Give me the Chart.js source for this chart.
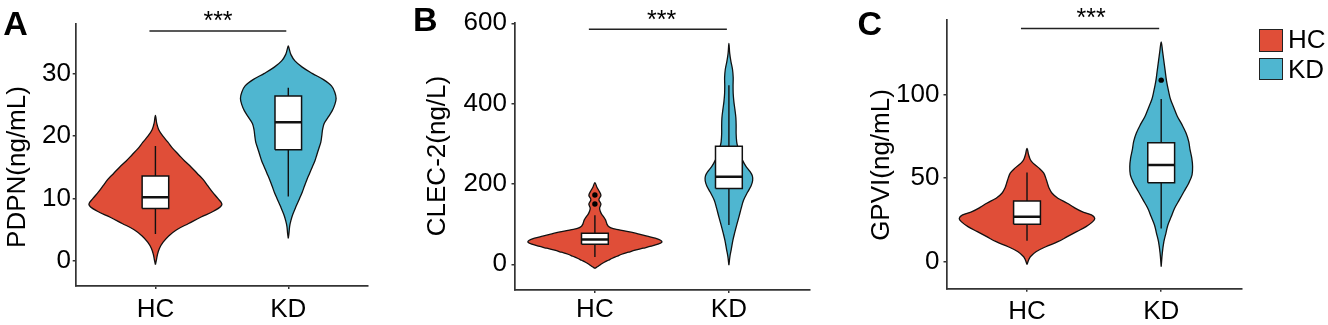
<!DOCTYPE html>
<html><head><meta charset="utf-8">
<script src="https://cdn.jsdelivr.net/npm/chart.js@4.4.1/dist/chart.umd.min.js"></script>
<style>
html,body{margin:0;padding:0;background:#fff;width:1328px;height:325px;overflow:hidden;}
body{position:relative;font-family:"Liberation Sans",Arial,Helvetica,sans-serif;}
canvas{position:absolute;top:0;}
.lbl{position:absolute;white-space:nowrap;line-height:1;color:#000;}
.key{position:absolute;box-sizing:border-box;border:1.5px solid #222;}
</style></head><body>
<canvas id="cA" width="380" height="325" style="left:0px"></canvas>
<canvas id="cB" width="400" height="325" style="left:419px"></canvas>
<canvas id="cC" width="390" height="325" style="left:864px"></canvas>
<script>
// ---------------- DATA ----------------
const groups = ['HC', 'KD'];
const panelLetters = ['A', 'B', 'C'];
const yTitles = ['PDPN(ng/mL)', 'CLEC-2(ng/L)', 'GPVI(ng/mL)'];
const sigText = '***';

const pdpnTicks = [0, 10, 20, 30];
const clecTicks = [0, 200, 400, 600];
const gpviTicks = [0, 50, 100];

// violin outlines: value levels and density half-widths (in group units)
const pdpnHcY = [-0.6, 0, 1, 2, 3, 4, 5, 6, 7, 8, 9, 10, 11, 12, 13, 14, 15, 16, 17, 18, 19, 20, 21, 22, 23.3];
const pdpnHcW = [0, 0.006, 0.015, 0.03, 0.058, 0.1, 0.16, 0.25, 0.34, 0.44, 0.5, 0.47, 0.43, 0.395, 0.36, 0.315, 0.27, 0.22, 0.175, 0.13, 0.094, 0.055, 0.025, 0.01, 0];
const pdpnKdY = [3.6, 4.4, 5.5, 6.5, 7.5, 8.7, 10, 11, 12, 13, 14, 15, 16, 17, 18, 19, 20, 21, 22, 23, 24, 25, 26, 27, 28, 29, 30, 31, 32, 33, 34, 34.4];
const pdpnKdW = [0, 0.005, 0.01, 0.02, 0.035, 0.058, 0.085, 0.105, 0.122, 0.14, 0.16, 0.18, 0.2, 0.215, 0.23, 0.245, 0.252, 0.258, 0.27, 0.3, 0.33, 0.35, 0.36, 0.35, 0.325, 0.265, 0.18, 0.105, 0.05, 0.02, 0.006, 0];

const clecHcY = [-10, -5, 0, 5, 10, 15, 20, 25, 30, 35, 40, 45, 50, 55, 60, 65, 70, 75, 80, 84, 87, 90, 95, 100, 110, 118, 125, 132, 140, 150, 161, 172, 183, 192, 203];
const clecHcW = [0, 0.025, 0.045, 0.07, 0.1, 0.13, 0.165, 0.2, 0.25, 0.3, 0.36, 0.42, 0.47, 0.5, 0.49, 0.45, 0.39, 0.33, 0.27, 0.21, 0.16, 0.125, 0.1, 0.09, 0.08, 0.065, 0.05, 0.04, 0.035, 0.045, 0.03, 0.045, 0.03, 0.015, 0];
const clecKdY = [-2, 20, 36, 60, 77, 100, 118, 140, 160, 180, 195, 208, 220, 232, 245, 260, 275, 290, 305, 325, 345, 365, 385, 405, 425, 445, 465, 485, 505, 525, 550];
const clecKdW = [0, 0.008, 0.017, 0.03, 0.042, 0.06, 0.075, 0.092, 0.11, 0.14, 0.165, 0.177, 0.175, 0.155, 0.125, 0.1, 0.08, 0.068, 0.058, 0.054, 0.054, 0.052, 0.045, 0.037, 0.032, 0.031, 0.032, 0.027, 0.015, 0.006, 0];

const gpviHcY = [-1.6, 1, 3, 6, 9, 12, 15, 18, 21, 24, 26, 28, 30, 32.5, 35, 38, 41, 44, 47, 50, 53, 56, 59, 61, 64, 67.8];
const gpviHcW = [0, 0.012, 0.025, 0.067, 0.14, 0.23, 0.3, 0.37, 0.44, 0.49, 0.505, 0.48, 0.41, 0.35, 0.3, 0.23, 0.187, 0.165, 0.152, 0.14, 0.125, 0.09, 0.045, 0.025, 0.012, 0];
const gpviKdY = [-3, 5, 12, 17, 22, 27, 32, 37, 42, 47, 52, 57, 62, 67, 72, 77, 82, 87, 92, 97, 102, 108, 114, 120, 126, 131.5];
const gpviKdW = [0, 0.008, 0.02, 0.035, 0.05, 0.075, 0.1, 0.135, 0.17, 0.205, 0.23, 0.234, 0.228, 0.215, 0.205, 0.185, 0.155, 0.12, 0.095, 0.07, 0.055, 0.04, 0.03, 0.02, 0.01, 0];

// box stats: [lower whisker, Q1, median, Q3, upper whisker]
const pdpnHcBox = [4.3, 8.4, 10.2, 13.6, 18.4];
const pdpnKdBox = [10.3, 17.8, 22.2, 26.4, 27.7];
const clecHcBox = [18, 50, 62, 77, 122];
const clecKdBox = [98, 189, 218, 294, 446];
const gpviHcBox = [12.6, 22.5, 26.9, 36.3, 53.4];
const gpviKdBox = [19.9, 47.2, 57.8, 71.1, 97.3];

const pdpnHcOut = [], pdpnKdOut = [];
const clecHcOut = [150, 172.5], clecKdOut = [];
const gpviHcOut = [], gpviKdOut = [108.6];

// significance bracket level (data units) per panel
const sigLevels = [36.8, 585, 139.5];

// ---------------- DRAWING ----------------
const COLORS = ['#E04E38', '#4FB6D0'];
const AXIS = '#333333';
const FONT = '"Liberation Sans", Arial, Helvetica, sans-serif';
const TICK_SIZE = 26;

function violinPts(c, ys, ws) {
  const p = [];
  for (let i = 0; i < ys.length; i++) p.push({x: c + ws[i], y: ys[i]});
  for (let i = ys.length - 2; i >= 0; i--) p.push({x: c - ws[i], y: ys[i]});
  return p;
}

function groupDatasets(c, ys, ws, box, outs, color) {
  const bw = 0.1;
  const [lo, q1, med, q3, hi] = box;
  return [
    {data: violinPts(c, ys, ws), showLine: true, fill: 'shape', backgroundColor: color,
     borderColor: '#111', borderWidth: 1.3, tension: 0.35, pointRadius: 0, order: 6},
    {data: [{x: c, y: lo}, {x: c, y: q1}, {x: c, y: null}, {x: c, y: q3}, {x: c, y: hi}],
     showLine: true, borderColor: '#111', borderWidth: 1.4, pointRadius: 0, tension: 0, spanGaps: false, order: 5},
    {data: [{x: c - bw, y: q1}, {x: c + bw, y: q1}, {x: c + bw, y: q3}, {x: c - bw, y: q3}, {x: c - bw, y: q1}],
     showLine: true, fill: 'shape', backgroundColor: '#ffffff', borderColor: '#111', borderWidth: 1.5,
     pointRadius: 0, tension: 0, order: 4},
    {data: [{x: c - bw, y: med}, {x: c + bw, y: med}], showLine: true, borderColor: '#111',
     borderWidth: 2.5, pointRadius: 0, tension: 0, order: 3},
    {data: outs.map(v => ({x: c, y: v})), showLine: false, pointRadius: 2.7, pointBackgroundColor: '#000',
     pointBorderColor: '#000', pointBorderWidth: 0, order: 2}
  ];
}

function makePanel(id, p) {
  const datasets = [
    ...groupDatasets(1, p.hc[0], p.hc[1], p.hc[2], p.hc[3], COLORS[0]),
    ...groupDatasets(2, p.kd[0], p.kd[1], p.kd[2], p.kd[3], COLORS[1]),
    {data: [{x: 0.955, y: p.sig}, {x: 1.985, y: p.sig}], showLine: true, borderColor: '#222',
     borderWidth: 1.5, pointRadius: 0, tension: 0, order: 1, clip: false}
  ];
  return new Chart(document.getElementById(id), {
    type: 'scatter',
    data: {datasets},
    options: {
      responsive: false, animation: false, devicePixelRatio: 1,
      layout: {padding: {left: 0, right: p.padR, top: p.padT, bottom: 0}},
      plugins: {legend: {display: false}, tooltip: {enabled: false}},
      scales: {
        x: {
          type: 'linear', min: 0.4, max: 2.6,
          afterFit(s) { s.height = p.xH; },
          afterBuildTicks(s) { s.ticks = groups.map((g, i) => ({value: i + 1})); },
          ticks: {callback: v => groups[v - 1], color: '#000', padding: p.xPad, autoSkip: false,
                  maxRotation: 0, font: {family: FONT, size: TICK_SIZE}},
          grid: {drawOnChartArea: false, drawTicks: true, tickLength: 3, color: AXIS, lineWidth: 1.5},
          border: {display: true, color: AXIS, width: 1.7}
        },
        y: {
          type: 'linear', min: p.yMin, max: p.yMax,
          afterFit(s) { s.width = p.yW; },
          afterBuildTicks(s) { s.ticks = p.ticks.map(v => ({value: v})); },
          ticks: {callback: v => String(v), color: '#000', padding: p.yPad, autoSkip: false,
                  font: {family: FONT, size: TICK_SIZE}},
          grid: {drawOnChartArea: false, drawTicks: true, tickLength: 3, color: AXIS, lineWidth: 1.5},
          border: {display: true, color: AXIS, width: 1.7}
        }
      }
    }
  });
}

makePanel('cA', {hc: [pdpnHcY, pdpnHcW, pdpnHcBox, pdpnHcOut], kd: [pdpnKdY, pdpnKdW, pdpnKdBox, pdpnKdOut],
  ticks: pdpnTicks, yMin: -4.0, yMax: 37.9, sig: sigLevels[0],
  yW: 75.7, xH: 39, padT: 24, padR: 12, xPad: 5.7, yPad: 1.8});
makePanel('cB', {hc: [clecHcY, clecHcW, clecHcBox, clecHcOut], kd: [clecKdY, clecKdW, clecKdBox, clecKdOut],
  ticks: clecTicks, yMin: -64, yMax: 601.5, sig: sigLevels[1],
  yW: 95.5, xH: 35, padT: 22.7, padR: 9.7, xPad: 1.7, yPad: 4.5});
makePanel('cC', {hc: [gpviHcY, gpviHcW, gpviHcBox, gpviHcOut], kd: [gpviKdY, gpviKdW, gpviKdBox, gpviKdOut],
  ticks: gpviTicks, yMin: -16.1, yMax: 144.8, sig: sigLevels[2],
  yW: 82.5, xH: 36.3, padT: 19.3, padR: 12.3, xPad: 5, yPad: 4});

// ---------------- TEXT (HTML) ----------------
function addText(txt, css) {
  const d = document.createElement('div');
  d.className = 'lbl';
  d.textContent = txt;
  Object.assign(d.style, css);
  document.body.appendChild(d);
  return d;
}
// panel letters
const letterPos = [[3.3, 5.5], [413, 1.8], [857.6, 5.5]];
panelLetters.forEach((L, i) => addText(L, {left: letterPos[i][0] + 'px', top: letterPos[i][1] + 'px',
  fontSize: '34px', fontWeight: 'bold'}));
// y titles (rotated)
const titlePos = [[15.8, 166.7], [435.5, 155.8], [880.3, 164.7]];
yTitles.forEach((t, i) => addText(t, {left: titlePos[i][0] + 'px', top: titlePos[i][1] + 'px',
  fontSize: '26px', transform: 'translate(-50%,-50%) rotate(-90deg)'}));
// significance stars
const starPos = [[218, 8.1], [661.7, 7.1], [1091.2, 5.4]];
starPos.forEach(sp => addText(sigText, {left: sp[0] + 'px', top: sp[1] + 'px', fontSize: '25px',
  transform: 'translateX(-50%)'}));
// legend
groups.forEach((g, i) => {
  const k = document.createElement('div');
  k.className = 'key';
  Object.assign(k.style, {left: '1259.3px', top: (29 + i * 28.7) + 'px', width: '23.4px', height: '22.7px',
    background: COLORS[i]});
  document.body.appendChild(k);
  addText(g, {left: '1288px', top: (26.3 + i * 30) + 'px', fontSize: '26px'});
});
</script>
</body></html>
